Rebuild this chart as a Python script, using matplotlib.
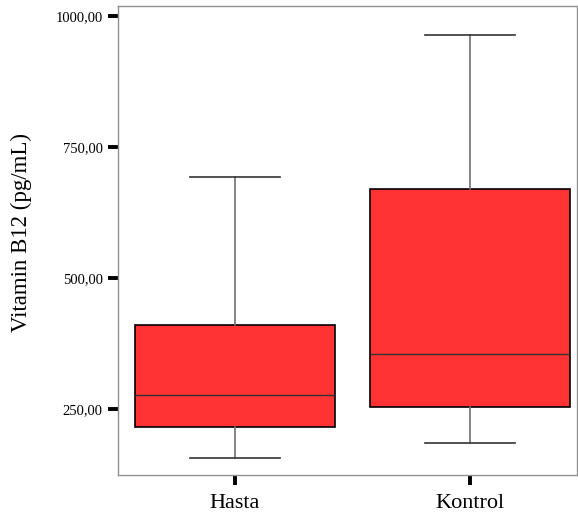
import matplotlib.pyplot as plt

groups = ['Hasta', 'Kontrol']
whislo = [157, 186]
q1 = [216, 254]
med = [276, 355]
q3 = [411, 671]
whishi = [693, 965]
yticks = [250, 500, 750, 1000]
ytick_labels = ['250,00', '500,00', '750,00', '1000,00']

plt.rcParams['font.family'] = ['Liberation Serif', 'DejaVu Serif']

stats = []
for i in range(len(groups)):
    stats.append({'label': groups[i], 'whislo': whislo[i], 'q1': q1[i], 'med': med[i],
                  'q3': q3[i], 'whishi': whishi[i], 'fliers': []})

fig = plt.figure(figsize=(5.78, 5.16), dpi=100)
ax = fig.add_axes([118 / 578, 1 - 475 / 516, 459 / 578, 469.5 / 516])

ax.bxp(stats, positions=[1, 2], widths=0.85, patch_artist=True, showfliers=False,
       boxprops=dict(facecolor='#ff3333', edgecolor='black', linewidth=1.2),
       medianprops=dict(color='#333333', linewidth=1),
       whiskerprops=dict(color='#707070', linewidth=1.2),
       capprops=dict(color='#333333', linewidth=1.2),
       capwidths=0.385)

ax.set_xlim(0.502, 2.455)
ax.set_ylim(124, 1021)
ax.set_yticks(yticks)
ax.set_yticklabels(ytick_labels, fontsize=10.5)
ax.set_xticks([1, 2])
ax.set_xticklabels(groups, fontsize=16)
ax.tick_params(axis='both', direction='out', length=7, width=2.8, color='black')
ax.tick_params(axis='y', pad=4)
ax.tick_params(axis='x', pad=7)
for s in ax.spines.values():
    s.set_color('#909090')
    s.set_linewidth(1)
ax.set_ylabel('Vitamin B12 (pg/mL)', fontsize=16.5)
ax.yaxis.set_label_coords(-0.187, 0.516)

fig.savefig('out.png', dpi=100)
